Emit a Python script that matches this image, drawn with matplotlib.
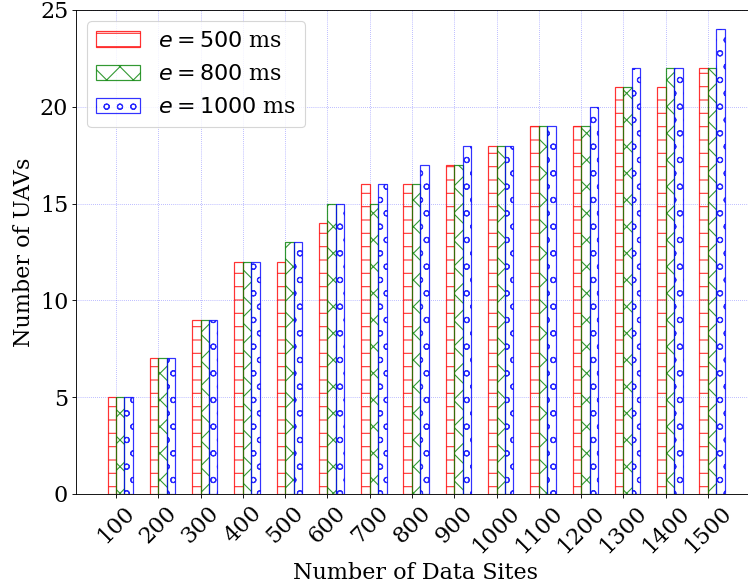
import matplotlib
matplotlib.use("Agg")
import matplotlib.pyplot as plt
import numpy as np

plt.rcParams['font.family'] = ['DejaVu Serif']
plt.rcParams['mathtext.fontset'] = 'dejavusans'

sites = ['100', '200', '300', '400', '500', '600', '700', '800', '900',
         '1000', '1100', '1200', '1300', '1400', '1500']
uav_500 = [5, 7, 9, 12, 12, 14, 16, 16, 17, 18, 19, 19, 21, 21, 22]
uav_800 = [5, 7, 9, 12, 13, 15, 15, 16, 17, 18, 19, 19, 21, 22, 22]
uav_1000 = [5, 7, 9, 12, 13, 15, 16, 17, 18, 18, 19, 20, 22, 22, 24]
labels = [r'$e = 500$ ms', r'$e = 800$ ms', r'$e = 1000$ ms']

fig = plt.figure(figsize=(748 / 80, 586 / 80), dpi=80)
ax = fig.add_axes([76 / 748, 92 / 586, 0.907, 484 / 586])

x = np.arange(len(sites))
w = 0.2
series = [uav_500, uav_800, uav_1000]
hatches = ['-', 'x', 'o']
colors = ['red', 'green', 'blue']
offsets = [-w / 2, w / 2, 3 * w / 2]
for vals, h, c, off, lab in zip(series, hatches, colors, offsets, labels):
    ax.bar(x + off, vals, width=w, fill=False, hatch=h, edgecolor=c,
           linewidth=1.1, alpha=0.8, label=lab, zorder=2)

ax.set_xlim(-0.945, 15.1)
ax.set_ylim(0, 25)
ax.set_xticks(x)
ax.set_xticklabels(sites, rotation=45, fontsize=20)
ax.set_yticks([0, 5, 10, 15, 20, 25])
ax.tick_params(axis='y', labelsize=20)
ax.set_xlabel('Number of Data Sites', fontsize=20)
ax.set_ylabel('Number of UAVs', fontsize=20)
ax.grid(True, color='blue', linestyle=':', linewidth=0.7, alpha=0.4, zorder=0)
ax.set_axisbelow(True)
ax.legend(loc='upper left', fontsize=20)

fig.savefig('out.png', dpi=80)
